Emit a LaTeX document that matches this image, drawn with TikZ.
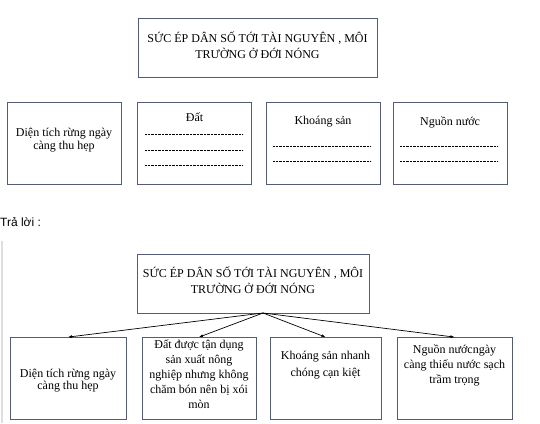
\documentclass[tikz,border=0pt]{standalone}
\usepackage{fontspec}
\setmainfont{Liberation Serif}
\newfontfamily\answerfont{Liberation Sans}
\usetikzlibrary{arrows.meta}
\definecolor{boxline}{RGB}{82,92,114}
\definecolor{quotebar}{RGB}{222,222,222}

\begin{document}
\begin{tikzpicture}[x=1pt,y=-1pt,
  box/.style={draw=boxline,line width=0.8pt,minimum width=114pt,minimum height=82pt,inner sep=0pt},
  txt/.style={align=center,inner sep=0pt,font=\fontsize{12}{15.5}\selectfont},
  dots/.style={dash pattern=on 0.6pt off 0.8pt,line width=0.5pt},
  arr/.style={-{Latex[length=4pt,width=3pt]},line width=0.7pt}]
  \useasboundingbox (0,0) rectangle (540,423);

  % question
  \node[box,minimum width=239pt,minimum height=59pt] (q) at (257.5,47.5) {};
  \node[txt,font=\fontsize{12}{16}\selectfont] (qt) at (257.5,45) {SỨC ÉP DÂN SỐ TỚI TÀI NGUYÊN , MÔI\\TRƯỜNG Ở ĐỚI NÓNG};
  \node[box] (q1) at (64,143) {};
  \node[txt,font=\fontsize{12}{13}\selectfont] (q1t) at (64,140) {Diện tích rừng ngày\\càng thu hẹp};
  \node[box] (q2) at (194.5,143) {};
  \node[txt] (q2t) at (194.5,117) {Đất};
  \node[box] (q3) at (323,143) {};
  \node[txt] (q3t) at (323,122) {Khoáng sản};
  \node[box] (q4) at (450,143) {};
  \node[txt] (q4t) at (450,122) {Nguồn nước};
  \foreach \y in {134,150,165}
    \draw[dots] (145,\y) -- (243,\y);
  \foreach \x in {273,400}
    \foreach \y in {146,161}
      \draw[dots] (\x,\y) -- (\x+98,\y);

  \node[anchor=west,inner sep=0pt,font=\answerfont\fontsize{12}{14}\selectfont] (ans) at (0,222) {Trả lời :};
  \draw[quotebar,line width=2pt] (2,241) -- (2,423);

  % answer
  \node[box,minimum width=232pt,minimum height=59pt] (a) at (253,283.5) {};
  \node[txt,font=\fontsize{12}{16}\selectfont] (at) at (253,280) {SỨC ÉP DÂN SỐ TỚI TÀI NGUYÊN , MÔI\\TRƯỜNG Ở ĐỚI NÓNG};
  \coordinate (o) at (263,313);
  \node[box,minimum width=116pt] (a1) at (68,378.5) {};
  \node[txt,font=\fontsize{12}{12}\selectfont] (a1t) at (68,381) {Diện tích rừng ngày\\càng thu hẹp};
  \node[box] (a2) at (199,378.5) {};
  \node[txt,font=\fontsize{12}{15}\selectfont,anchor=north] (a2t) at (199,339.5) {Đất được tận dụng\\sản xuất nông\\nghiệp nhưng không\\chăm bón nên bị xói\\mòn};
  \node[box,minimum width=111pt] (a3) at (325.5,378.5) {};
  \node[txt,font=\fontsize{12}{16.5}\selectfont,anchor=north] (a3t) at (325.5,351) {Khoáng sản nhanh\\chóng cạn kiệt};
  \node[box,minimum width=115pt] (a4) at (454.5,378.5) {};
  \node[txt,font=\fontsize{12}{15}\selectfont,anchor=north] (a4t) at (454.5,345) {Nguồn nướcngày\\càng thiếu nước sạch\\trầm trọng};
  \foreach \n in {a1,a2,a3,a4}
    \draw[arr] (o) -- (\n.north);
\end{tikzpicture}
\end{document}
